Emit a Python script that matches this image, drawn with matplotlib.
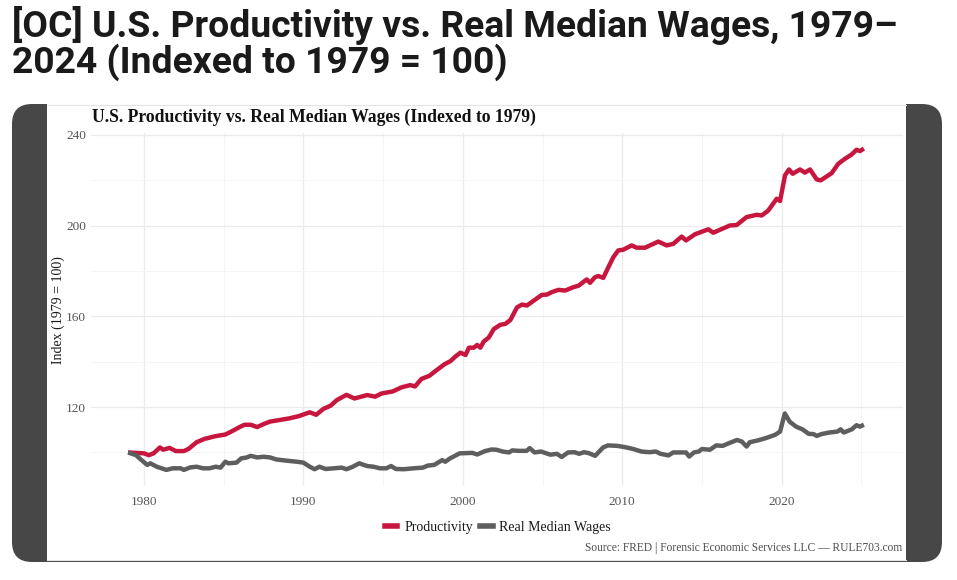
import matplotlib
matplotlib.use("Agg")
import matplotlib.pyplot as plt
from matplotlib.patches import FancyBboxPatch, Rectangle
from matplotlib.lines import Line2D

# ---------------- data ----------------
prod_years = [
    1979.0, 1980.0, 1980.3, 1980.6, 1981.0, 1981.2, 1981.6, 1982.0, 1982.5, 1982.8,
    1983.3, 1983.8, 1984.5, 1985.1, 1985.5, 1986.0, 1986.3, 1986.7, 1987.1, 1987.5,
    1987.9, 1988.5, 1989.1, 1989.7, 1990.4, 1990.8, 1991.25, 1991.7, 1992.1, 1992.7,
    1993.2, 1994.0, 1994.5, 1994.9, 1995.6, 1996.15, 1996.7, 1997.0, 1997.4, 1997.9,
    1998.3, 1998.85, 1999.23, 1999.5, 1999.85, 2000.17, 2000.38, 2000.69, 2000.9, 2001.1,
    2001.31, 2001.63, 2001.94, 2002.35, 2002.67, 2002.98, 2003.4, 2003.71, 2004.02, 2004.54,
    2004.96, 2005.27, 2005.58, 2006.0, 2006.42, 2006.94, 2007.25, 2007.77, 2007.98, 2008.29,
    2008.5, 2008.81, 2009.13, 2009.44, 2009.75, 2010.06, 2010.59, 2010.9, 2011.43, 2012.26,
    2012.79, 2013.2, 2013.73, 2014.0, 2014.56, 2015.4, 2015.71, 2016.13, 2016.76, 2017.18,
    2017.8, 2018.43, 2018.75, 2019.16, 2019.69, 2019.9, 2020.21, 2020.46, 2020.69, 2021.15,
    2021.46, 2021.78, 2022.2, 2022.45, 2022.82, 2023.14, 2023.55, 2023.97, 2024.39, 2024.7,
    2024.91, 2025.16,
]
productivity = [
    100.0, 99.6, 98.8, 99.6, 102.2, 101.2, 102.0, 100.6, 100.6, 101.6,
    104.5, 106.0, 107.2, 107.9, 109.3, 111.2, 112.2, 112.2, 111.2, 112.5,
    113.6, 114.3, 115.0, 116.0, 117.7, 116.6, 119.2, 120.6, 123.1, 125.4,
    123.8, 125.3, 124.6, 126.0, 126.9, 128.7, 129.7, 129.1, 132.4, 133.8,
    136.0, 138.9, 140.3, 142.1, 144.0, 143.0, 146.2, 146.2, 147.4, 146.2,
    148.9, 150.7, 154.4, 156.3, 156.7, 158.4, 164.0, 165.2, 164.8, 167.4,
    169.5, 169.6, 170.7, 171.7, 171.4, 172.9, 173.5, 176.3, 174.8, 177.3,
    177.8, 177.0, 181.7, 186.1, 189.1, 189.4, 191.3, 190.3, 190.3, 193.0,
    191.3, 192.0, 195.2, 193.5, 196.2, 198.4, 196.9, 198.2, 200.1, 200.3,
    203.8, 204.8, 204.5, 206.7, 211.9, 210.9, 222.2, 224.8, 222.9, 224.8,
    223.4, 224.8, 220.4, 220.0, 221.7, 223.2, 227.3, 229.5, 231.4, 233.5,
    232.9, 234.0,
]

wage_years = [
    1979.0, 1979.5, 1979.8, 1980.2, 1980.4, 1980.8, 1981.4, 1981.8, 1982.3, 1982.5,
    1982.9, 1983.3, 1983.7, 1984.1, 1984.5, 1984.8, 1985.1, 1985.3, 1985.8, 1986.1,
    1986.4, 1986.7, 1987.1, 1987.5, 1987.9, 1988.3, 1988.9, 1989.6, 1990.0, 1990.4,
    1990.7, 1991.0, 1991.4, 1991.9, 1992.4, 1992.7, 1993.1, 1993.5, 1994.0, 1994.4,
    1994.8, 1995.2, 1995.5, 1995.8, 1996.3, 1996.9, 1997.5, 1997.8, 1998.2, 1998.7,
    1998.9, 1999.2, 1999.4, 1999.8, 2000.6, 2000.9, 2001.4, 2001.8, 2002.1, 2002.5,
    2002.9, 2003.1, 2003.5, 2004.0, 2004.2, 2004.5, 2004.9, 2005.5, 2005.9, 2006.2,
    2006.6, 2007.0, 2007.3, 2007.6, 2007.9, 2008.3, 2008.8, 2009.1, 2009.7, 2010.2,
    2010.7, 2011.2, 2011.7, 2012.1, 2012.4, 2012.9, 2013.2, 2014.0, 2014.2, 2014.5,
    2014.8, 2015.0, 2015.5, 2015.9, 2016.3, 2016.7, 2017.2, 2017.5, 2017.8, 2018.0,
    2018.5, 2019.0, 2019.6, 2019.9, 2020.2, 2020.5, 2020.9, 2021.3, 2021.7, 2022.0,
    2022.2, 2022.5, 2023.0, 2023.5, 2023.7, 2023.9, 2024.4, 2024.7, 2024.9, 2025.16,
]
real_median_wages = [
    100.0, 98.8, 96.9, 94.5, 95.2, 93.7, 92.3, 93.0, 93.0, 92.3,
    93.4, 93.7, 93.0, 93.0, 93.7, 93.3, 95.9, 95.2, 95.5, 97.4,
    97.7, 98.5, 97.8, 98.1, 97.8, 96.9, 96.4, 95.9, 95.5, 93.7,
    92.6, 93.7, 92.7, 93.0, 93.3, 92.6, 93.7, 95.2, 94.0, 93.7,
    93.0, 93.0, 94.0, 92.7, 92.6, 93.0, 93.3, 94.2, 94.5, 96.6,
    95.9, 97.4, 98.1, 99.6, 99.8, 99.1, 100.6, 101.3, 101.2, 100.4,
    100.0, 100.9, 100.7, 100.7, 101.9, 100.0, 100.4, 99.0, 99.4, 98.0,
    100.0, 100.1, 99.4, 100.1, 99.7, 98.5, 102.2, 103.1, 102.9, 102.3,
    101.5, 100.4, 100.1, 100.4, 99.4, 98.7, 100.0, 100.0, 98.2, 100.0,
    100.4, 101.5, 101.2, 103.1, 102.9, 104.1, 105.5, 104.8, 102.6, 104.5,
    105.3, 106.3, 107.8, 109.2, 117.2, 113.6, 111.4, 110.2, 108.2, 108.1,
    107.3, 108.1, 108.8, 109.2, 110.2, 108.8, 110.2, 112.0, 111.4, 112.2,
]

series_names = ["Productivity", "Real Median Wages"]
series_colors = ["#C8173F", "#5E5E5E"]
x_ticks = [1980, 1990, 2000, 2010, 2020]
y_ticks = [120, 160, 200, 240]

post_title_1 = "[OC] U.S. Productivity vs. Real Median Wages, 1979\u2013"
post_title_2 = "2024 (Indexed to 1979 = 100)"
chart_title = "U.S. Productivity vs. Real Median Wages (Indexed to 1979)"
y_label = "Index (1979 = 100)"
caption = "Source: FRED | Forensic Economic Services LLC \u2014 RULE703.com"

# ---------------- figure ----------------
W, H = 957, 580
fig = plt.figure(figsize=(W / 100, H / 100), dpi=100)
fig.patch.set_facecolor("white")

def px(x, y):
    """pixel (from top-left) -> inches for dpi_scale_trans"""
    return x / 100, (H - y) / 100

# dark rounded frame
x0, y0 = px(12, 562)
frame = FancyBboxPatch((x0 + 0.2, y0 + 0.2), (942 - 12) / 100 - 0.4, (562 - 104) / 100 - 0.4,
                       boxstyle="round,pad=0.2", transform=fig.dpi_scale_trans,
                       facecolor="#474747", edgecolor="none", zorder=0)
fig.patches.append(frame)
# white chart image
cx, cy = px(47, 560)
chart_bg = Rectangle((cx, cy), (906 - 47) / 100, (560 - 103) / 100,
                     transform=fig.dpi_scale_trans, facecolor="white",
                     edgecolor="none", zorder=1)
fig.patches.append(chart_bg)
for yy in (104.5, 559.5):
    fig.lines.append(Line2D([47 / W, 906 / W], [1 - yy / H, 1 - yy / H],
                            transform=fig.transFigure, color="#E4E4E4", lw=0.8, zorder=1.5))

# post title
title_font = ["Roboto", "DejaVu Sans"]
fig.text(12 / W, 1 - 37 / H, post_title_1,
         family=title_font, fontweight="bold", fontsize=26.8, color="#1A1A1B",
         ha="left", va="baseline")
fig.text(12 / W, 1 - 73 / H, post_title_2,
         family=title_font, fontweight="bold", fontsize=26.8, color="#1A1A1B",
         ha="left", va="baseline")

serif = ["Liberation Serif", "DejaVu Serif"]

# axes
left, right, top, bottom = 91.4, 902.8, 132.5, 486
ax = fig.add_axes([left / W, 1 - bottom / H, (right - left) / W, (bottom - top) / H])
ax.set_facecolor("none")
ax.set_zorder(2)

ax.plot(prod_years, productivity, color=series_colors[0], lw=3.2,
        solid_joinstyle="round", solid_capstyle="butt", label=series_names[0], zorder=3)
ax.plot(wage_years, real_median_wages, color=series_colors[1], lw=3.2,
        solid_joinstyle="round", solid_capstyle="butt", label=series_names[1], zorder=3)

ax.set_xlim(1976.7, 2027.6)
ax.set_ylim(85.2, 241.1)
ax.set_xticks(x_ticks)
ax.set_yticks(y_ticks)
ax.set_xticks([1985, 1995, 2005, 2015, 2025], minor=True)
ax.set_yticks([100, 140, 180, 220], minor=True)
ax.grid(which="major", color="#EBEBEB", lw=0.9)
ax.grid(which="minor", color="#F3F3F3", lw=0.6)
ax.set_axisbelow(True)
for s in ax.spines.values():
    s.set_visible(False)
ax.tick_params(which="both", length=0)
ax.tick_params(axis="both", labelsize=9.5, labelcolor="#555555", pad=4)
for lab in ax.get_xticklabels() + ax.get_yticklabels():
    lab.set_family(serif)
ax.tick_params(axis="x", pad=7)

fig.text(58 / W, 1 - 310 / H, y_label, rotation=90, family=serif, fontsize=10,
         color="#1A1A1A", ha="center", va="center")
fig.text(92 / W, 1 - 122 / H, chart_title, family=serif, fontweight="bold",
         fontsize=12.7, color="#111111", ha="left", va="baseline")

handles = [Line2D([], [], color=c, lw=4) for c in series_colors]
leg = fig.legend(handles, series_names, loc="center", bbox_to_anchor=(498 / W, 1 - 527 / H),
                 ncol=2, frameon=False, handlelength=0.9, handletextpad=0.5,
                 columnspacing=0.5, prop={"family": serif, "size": 10})
for t in leg.get_texts():
    t.set_color("#1A1A1A")

fig.text(902 / W, 1 - 551 / H, caption, family=serif, fontsize=8.3, color="#4D4D4D",
         ha="right", va="baseline")

fig.savefig("out.png", dpi=100)
